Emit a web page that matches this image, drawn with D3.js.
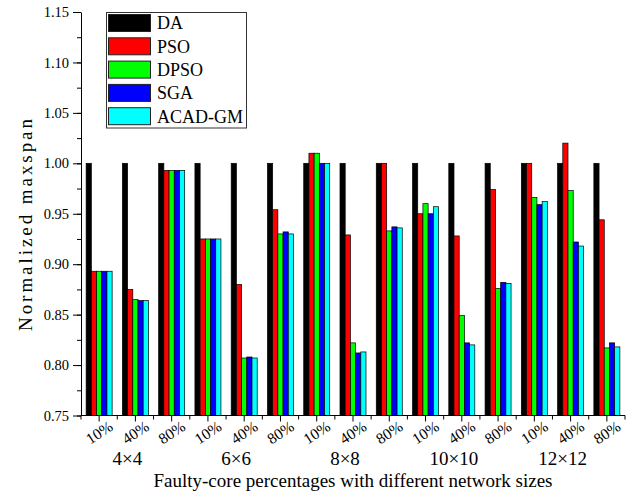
<!doctype html>
<html>
<head>
  <meta charset="utf-8">
  <title>Normalized maxspan</title>
  <script src="https://d3js.org/d3.v7.min.js"></script>
  <style>
    body { margin:0; background:#fff; }
    svg { font-family: "Liberation Serif", "Times New Roman", serif; }
  </style>
</head>
<body>
  <script>
    // data
    var sizes = ["4\u00d74", "6\u00d76", "8\u00d78", "10\u00d710", "12\u00d712"];
    var percents = ["10%", "40%", "80%"];
    var series = ["DA", "PSO", "DPSO", "SGA", "ACAD-GM"];
    var colors = ["#000000", "#ff0000", "#00ff00", "#0000ff", "#00ffff"];

    // one value per group (size x percent), in order
    var DA    = [1, 1, 1, 1, 1, 1, 1, 1, 1, 1, 1, 1, 1, 1, 1];
    var PSO   = [0.893, 0.875, 0.993, 0.925, 0.880, 0.954, 1.010, 0.929, 1.000, 0.950, 0.928, 0.974, 1.000, 1.020, 0.944];
    var DPSO  = [0.893, 0.865, 0.993, 0.925, 0.807, 0.930, 1.010, 0.822, 0.933, 0.960, 0.849, 0.876, 0.966, 0.973, 0.817];
    var SGA   = [0.893, 0.864, 0.993, 0.925, 0.808, 0.932, 1.000, 0.812, 0.937, 0.950, 0.822, 0.882, 0.959, 0.922, 0.822];
    var ACAD  = [0.893, 0.864, 0.993, 0.925, 0.807, 0.930, 1.000, 0.813, 0.936, 0.957, 0.820, 0.881, 0.962, 0.918, 0.818];
    var values = [DA, PSO, DPSO, SGA, ACAD];

    var yTicks = [0.75, 0.80, 0.85, 0.90, 0.95, 1.00, 1.05, 1.10, 1.15];

    var width = 633, height = 499;
    var plotLeft = 81, plotRight = 625, plotTop = 12, plotBottom = 415.5;

    var svg = d3.select("body").append("svg")
      .attr("width", width)
      .attr("height", height);

    // build group keys
    var groups = [];
    sizes.forEach(function(s) {
      percents.forEach(function(p) { groups.push(s + "|" + p); });
    });

    var x = d3.scaleBand()
      .domain(groups)
      .range([plotLeft, plotRight])
      .paddingInner(0.283)
      .paddingOuter(0.1415);

    var xSub = d3.scaleBand()
      .domain(series)
      .range([0, x.bandwidth()]);

    var y = d3.scaleLinear()
      .domain([0.75, 1.15])
      .range([plotBottom, plotTop]);

    var colorScale = d3.scaleOrdinal().domain(series).range(colors);

    // bars
    var g = svg.append("g");
    groups.forEach(function(key, gi) {
      series.forEach(function(s, si) {
        var v = values[si][gi];
        g.append("rect")
          .attr("x", x(key) + xSub(s))
          .attr("y", y(v))
          .attr("width", xSub.bandwidth())
          .attr("height", y(0.75) - y(v))
          .attr("fill", colorScale(s))
          .attr("stroke", "#000")
          .attr("stroke-width", 0.7);
      });
    });

    // y axis with minor ticks
    var minor = d3.range(0, 17).map(function(i) { return 0.75 + i * 0.025; });
    svg.append("g")
      .attr("transform", "translate(" + plotLeft + ",0)")
      .call(d3.axisLeft(y).tickValues(minor).tickSize(4).tickFormat(""))
      .call(function(a) { a.select(".domain").remove(); });
    var yAxis = svg.append("g")
      .attr("transform", "translate(" + plotLeft + ",0)")
      .call(d3.axisLeft(y).tickValues(yTicks).tickSize(8).tickSizeOuter(0).tickFormat(d3.format(".2f")));
    yAxis.selectAll("text")
      .attr("font-size", 14.5)
      .attr("font-family", "Liberation Serif")
      .attr("fill", "#000")
      .attr("x", -12);

    // x axis: minor ticks on group boundaries, major at group centres
    var bounds = groups.map(function(k) { return x(k) - x.step() * x.paddingInner() / 2; });
    bounds.push(plotRight);
    svg.append("line")
      .attr("x1", plotLeft).attr("x2", plotRight)
      .attr("y1", plotBottom).attr("y2", plotBottom)
      .attr("stroke", "#000");
    svg.selectAll(".minor-x").data(bounds).enter().append("line")
      .attr("x1", function(d) { return d; }).attr("x2", function(d) { return d; })
      .attr("y1", plotBottom).attr("y2", plotBottom + 4)
      .attr("stroke", "#000");
    svg.selectAll(".major-x").data(groups).enter().append("line")
      .attr("x1", function(d) { return x(d) + x.bandwidth() / 2; })
      .attr("x2", function(d) { return x(d) + x.bandwidth() / 2; })
      .attr("y1", plotBottom).attr("y2", plotBottom + 6)
      .attr("stroke", "#000");

    // rotated percent labels
    svg.selectAll(".pct").data(groups).enter().append("text")
      .attr("transform", function(d) {
        return "translate(" + (x(d) + x.bandwidth() / 2) + "," + (plotBottom + 17) + ") rotate(-33)";
      })
      .attr("text-anchor", "middle")
      .attr("dy", "0.35em")
      .attr("font-size", 15.5)
      .text(function(d) { return d.split("|")[1]; });

    // network size labels, slightly left of each group's centre
    svg.selectAll(".size").data(sizes).enter().append("text")
      .attr("x", function(d) {
        return x(d + "|" + percents[1]) + x.bandwidth() / 2 - 8;
      })
      .attr("y", 465)
      .attr("text-anchor", "middle")
      .attr("font-size", 19)
      .text(function(d) { return d; });

    // axis titles
    svg.append("text")
      .attr("x", (plotLeft + plotRight) / 2)
      .attr("y", 487)
      .attr("text-anchor", "middle")
      .attr("font-size", 19)
      .text("Faulty-core percentages with different network sizes");

    svg.append("text")
      .attr("transform", "translate(32,225) rotate(-90)")
      .attr("text-anchor", "middle")
      .attr("font-size", 19)
      .attr("textLength", 212)
      .attr("lengthAdjust", "spacing")
      .text("Normalized maxspan");

    // legend
    var legend = svg.append("g");
    legend.append("rect")
      .attr("x", 106.5).attr("y", 12.5)
      .attr("width", 140).attr("height", 115.5)
      .attr("fill", "#fff")
      .attr("stroke", "#333")
      .attr("stroke-width", 1);
    var items = legend.selectAll(".item").data(series).enter().append("g")
      .attr("transform", function(d, i) { return "translate(0," + (14.5 + i * 23.3) + ")"; });
    items.append("rect")
      .attr("x", 108.5).attr("y", 0)
      .attr("width", 42).attr("height", 17)
      .attr("fill", function(d) { return colorScale(d); })
      .attr("stroke", "#222")
      .attr("stroke-width", 1);
    items.append("text")
      .attr("x", 157).attr("y", 8.5)
      .attr("dy", "0.35em")
      .attr("font-size", 18)
      .text(function(d) { return d; });
  </script>
</body>
</html>
